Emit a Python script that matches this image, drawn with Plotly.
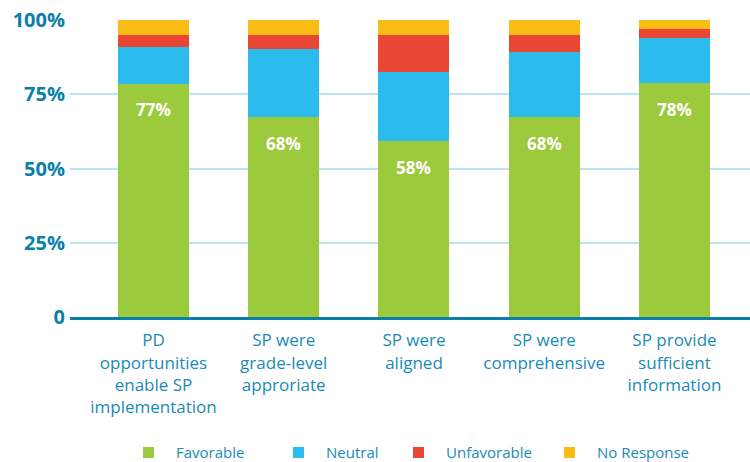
import numpy as np
import plotly.graph_objects as go

# Survey responses per statement (percent of respondents)
categories = [
    "PD<br>opportunities<br>enable SP<br>implementation",
    "SP were<br>grade-level<br>approriate",
    "SP were<br>aligned",
    "SP were<br>comprehensive",
    "SP provide<br>sufficient<br>information",
]
favorable = [77, 68, 58, 68, 78]
neutral = [12, 23, 23, 22, 15]
unfavorable = [4, 5, 12, 6, 3]
no_response = [5, 5, 5, 5, 3]

series_names = ["Favorable", "Neutral", "Unfavorable", "No Response"]
series_values = [favorable, neutral, unfavorable, no_response]
series_colors = ["#9bca3c", "#2bbbec", "#e94635", "#f8bc15"]

y_tickvals = [0, 25, 50, 75, 100]
y_ticktext = ["0", "25%", "50%", "75%", "100%"]

AXIS_BLUE = "#0b7fa9"
LABEL_BLUE = "#1a8ab8"

fig = go.Figure()
x_idx = list(range(len(categories)))
for name, vals, color in zip(series_names, series_values, series_colors):
    fig.add_trace(go.Bar(
        x=x_idx, y=vals, name=name,
        marker=dict(color=color, line=dict(width=0)),
        showlegend=False,
    ))

# Favorable share after normalising each bar to 100%
totals = np.sum(np.array(series_values), axis=0)
fav_share = np.array(favorable) / totals * 100

annotations = []
for i, (v, share) in enumerate(zip(favorable, fav_share)):
    annotations.append(dict(
        x=i, y=share, xref="x", yref="y", text=f"{v}%",
        showarrow=False, yshift=-26, yanchor="middle",
        font=dict(family="Open Sans", size=17, color="white", weight="bold"),
    ))

# Legend drawn as coloured squares with labels underneath the plot
legend_sq_x = [143, 293, 413, 564]
legend_text_x = [175, 325, 445, 596]
shapes = []
for name, color, sx, tx in zip(series_names, series_colors, legend_sq_x, legend_text_x):
    shapes.append(dict(
        type="rect", xref="paper", yref="paper",
        x0=(sx - 70) / 680, x1=(sx + 11 - 70) / 680,
        y0=(317 - 458) / 297, y1=(317 - 447) / 297,
        fillcolor=color, line=dict(width=0),
    ))
    annotations.append(dict(
        x=(tx - 70) / 680, y=(317 - 451.5) / 297, xref="paper", yref="paper",
        text=name, showarrow=False, xanchor="left", yanchor="middle",
        borderpad=0,
        font=dict(family="Open Sans", size=15, color=LABEL_BLUE),
    ))

fig.update_layout(
    width=750, height=462,
    margin=dict(l=70, r=0, t=20, b=145),
    barmode="stack", barnorm="percent", bargap=0.455,
    plot_bgcolor="white", paper_bgcolor="white",
    annotations=annotations, shapes=shapes,
    showlegend=False,
)
fig.update_xaxes(
    tickvals=x_idx, ticktext=categories,
    range=[-0.641, 4.58],
    showgrid=False, zeroline=False,
    showline=True, linewidth=3, linecolor=AXIS_BLUE,
    ticks="", ticklabelstandoff=6,
    tickfont=dict(family="Open Sans", size=17, color=LABEL_BLUE),
)
fig.update_yaxes(
    range=[0, 100], tickvals=y_tickvals, ticktext=y_ticktext,
    showgrid=True, gridcolor="#b9e4f1", gridwidth=2,
    zeroline=False, showline=False, ticks="",
    ticklabelstandoff=4,
    tickfont=dict(family="Open Sans", size=20, color=AXIS_BLUE, weight="bold"),
)

fig.write_html("out.html")
